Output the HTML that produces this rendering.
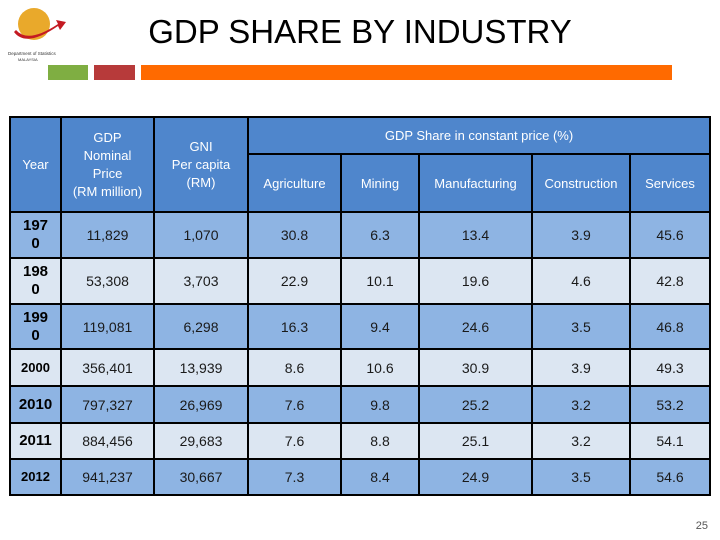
<!DOCTYPE html>
<html><head><meta charset="utf-8"><style>
body{margin:0;width:720px;height:540px;background:#fff;position:relative;overflow:hidden;font-family:"Liberation Sans","DejaVu Sans",sans-serif;}
.title{position:absolute;left:0;width:720px;top:13px;text-align:center;font-size:33px;color:#000;}
.bar{position:absolute;top:65px;height:15px;}
table{position:absolute;left:9px;top:116px;border-collapse:collapse;table-layout:fixed;}
td{border:2px solid #000;text-align:center;color:#1a1a1a;font-size:14px;padding:0;}
.h td, td.h{background:#4f86cc;color:#fff;font-size:13px;}
.o td{background:#8eb4e3;}
.e td{background:#dce6f2;}
td.y{font-weight:bold;color:#000;font-size:15px;line-height:18px;}
.pg{position:absolute;right:12px;bottom:8px;font-size:11px;color:#555;}
</style></head><body>
<div style="position:absolute;left:6px;top:4px;width:60px;height:60px;">
<svg width="60" height="60"><circle cx="28" cy="20" r="16" fill="#e9a92b"/><path d="M8 28 Q20 44 52 22 L54 26 L60 18 L50 16 L52 20 Q22 40 10 26Z" fill="#c41a22"/><text x="2" y="51" font-size="4.5" fill="#333">Department of Statistics</text><text x="12" y="57" font-size="4" fill="#333">MALAYSIA</text></svg></div>
<div class="title">GDP SHARE BY INDUSTRY</div>
<div class="bar" style="left:48px;width:40px;background:#7fae42"></div>
<div class="bar" style="left:94px;width:41px;background:#b73a3a"></div>
<div class="bar" style="left:141px;width:531px;background:#ff6a00"></div>
<table>
<colgroup><col style="width:51px"><col style="width:93px"><col style="width:94px"><col style="width:93px"><col style="width:78px"><col style="width:113px"><col style="width:98px"><col style="width:80px"></colgroup>
<tr class="h" style="height:37px"><td rowspan="2">Year</td><td rowspan="2" style="line-height:18px">GDP<br>Nominal<br>Price<br>(RM million)</td><td rowspan="2" style="line-height:18px">GNI<br>Per capita<br>(RM)</td><td colspan="5">GDP Share in constant price (%)</td></tr>
<tr class="h" style="height:58px"><td>Agriculture</td><td>Mining</td><td>Manufacturing</td><td>Construction</td><td>Services</td></tr>
<tr class="o" style="height:46px"><td class="y">197<br>0</td><td>11,829</td><td>1,070</td><td>30.8</td><td>6.3</td><td>13.4</td><td>3.9</td><td>45.6</td></tr>
<tr class="e" style="height:46px"><td class="y">198<br>0</td><td>53,308</td><td>3,703</td><td>22.9</td><td>10.1</td><td>19.6</td><td>4.6</td><td>42.8</td></tr>
<tr class="o" style="height:45px"><td class="y">199<br>0</td><td>119,081</td><td>6,298</td><td>16.3</td><td>9.4</td><td>24.6</td><td>3.5</td><td>46.8</td></tr>
<tr class="e" style="height:37px"><td class="y" style="font-size:13px">2000</td><td>356,401</td><td>13,939</td><td>8.6</td><td>10.6</td><td>30.9</td><td>3.9</td><td>49.3</td></tr>
<tr class="o" style="height:37px"><td class="y">2010</td><td>797,327</td><td>26,969</td><td>7.6</td><td>9.8</td><td>25.2</td><td>3.2</td><td>53.2</td></tr>
<tr class="e" style="height:36px"><td class="y">2011</td><td>884,456</td><td>29,683</td><td>7.6</td><td>8.8</td><td>25.1</td><td>3.2</td><td>54.1</td></tr>
<tr class="o" style="height:36px"><td class="y" style="font-size:13px">2012</td><td>941,237</td><td>30,667</td><td>7.3</td><td>8.4</td><td>24.9</td><td>3.5</td><td>54.6</td></tr>
</table>
<div class="pg">25</div>
</body></html>
